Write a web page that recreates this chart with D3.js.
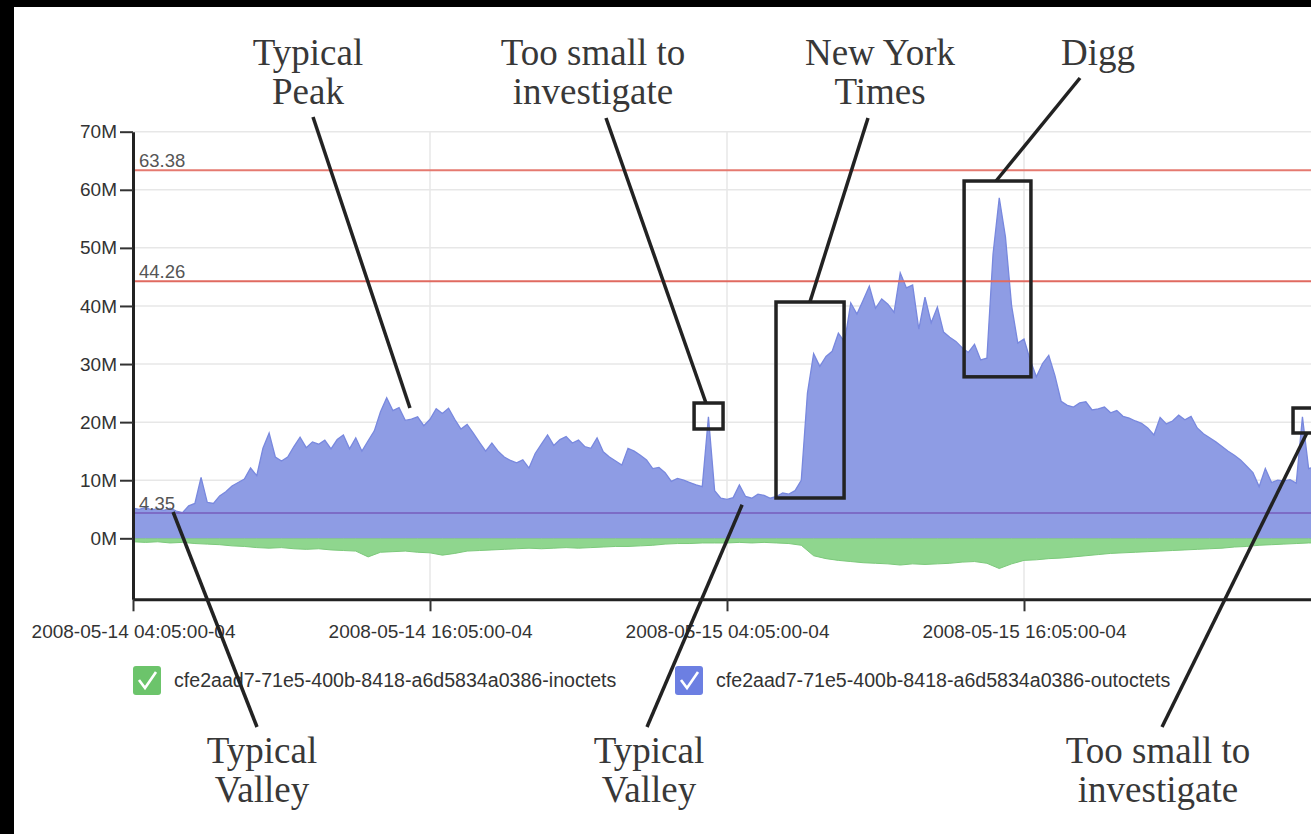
<!DOCTYPE html>
<html><head><meta charset="utf-8">
<script src="https://cdn.jsdelivr.net/npm/d3@7"></script>
<style>
html,body{margin:0;padding:0;background:#000;overflow:hidden;}
svg{display:block;}
</style></head>
<body>
<script>
// ---------------- DATA ----------------
// start of the series (shown as local time, -04)
const startTime = Date.UTC(2008, 4, 14, 4, 5);
// outoctets, one value every 15 minutes, in millions
const outValues = [
 5.2,5.0,5.3,4.9,5.1,4.8,5.2,4.7,4.4,5.6,6.0,10.5,6.2,6.0,7.3,8.0,9.0,9.6,10.2,12.1,
 10.8,15.5,18.1,14.0,13.3,14.0,15.8,17.4,15.6,16.6,16.2,16.9,15.4,17.0,17.8,15.4,17.3,15.0,16.8,18.5,
 21.8,24.2,22.0,22.5,20.3,20.5,20.9,19.4,20.5,22.3,21.5,22.4,20.5,18.8,19.6,18.1,16.5,15.0,16.4,15.0,
 14.0,13.4,13.0,13.5,12.1,14.6,16.2,17.8,16.0,17.0,17.5,16.4,16.9,15.8,15.5,17.3,14.9,14.0,13.3,12.6,
 15.5,15.0,14.3,13.5,12.0,12.2,11.3,9.8,10.3,10.0,9.6,9.2,8.9,20.9,8.2,6.9,6.7,7.0,9.2,7.2,
 6.9,7.6,7.4,6.9,7.2,7.8,7.6,8.2,10.0,25.0,31.8,29.6,31.3,32.2,35.3,33.8,40.5,38.6,41.0,43.4,
 39.6,41.2,40.3,38.9,45.7,43.1,43.6,36.0,41.5,37.1,39.8,35.5,34.6,33.9,32.8,32.0,33.4,30.7,31.0,49.0,
 58.6,51.9,40.0,33.6,34.3,30.7,27.8,30.1,31.5,28.0,23.6,22.9,22.6,23.3,23.5,22.1,22.3,22.6,21.6,22.0,
 21.0,20.7,20.2,19.8,19.0,17.8,20.8,19.7,20.2,21.2,20.4,21.0,19.0,18.0,17.3,16.6,15.8,15.0,14.3,13.5,
 12.4,11.3,8.9,12.0,9.6,10.0,9.9,10.1,9.5,20.9,12.0,12.3,11.0
];
// inoctets (drawn negative), one value every 30 minutes, in millions
const inValues = [
 -0.6,-0.7,-0.6,-0.8,-0.7,-0.9,-1.0,-1.1,-1.3,-1.4,-1.6,-1.7,-1.6,-1.8,-1.9,-1.8,-2.0,-2.1,-2.2,-3.2,
 -2.4,-2.3,-2.2,-2.4,-2.5,-2.9,-2.6,-2.2,-2.1,-2.0,-1.9,-1.8,-1.7,-1.8,-1.7,-1.6,-1.7,-1.6,-1.5,-1.4,
 -1.4,-1.3,-1.2,-1.0,-0.9,-0.9,-0.8,-0.8,-0.8,-0.7,-0.8,-0.7,-0.8,-0.9,-1.2,-3.0,-3.5,-3.8,-4.0,-4.2,
 -4.3,-4.4,-4.6,-4.4,-4.5,-4.4,-4.3,-4.1,-4.0,-4.3,-5.2,-4.4,-3.8,-3.7,-3.5,-3.4,-3.2,-3.0,-2.8,-2.6,
 -2.5,-2.4,-2.3,-2.2,-2.1,-2.0,-1.9,-1.8,-1.7,-1.5,-1.4,-1.2,-1.1,-1.0,-0.9,-0.8,-0.8
];
const thresholdValues = [63.38, 44.26, 4.35];
const thresholdLabels = ["63.38", "44.26", "4.35"];
const yTickValues = [0, 10, 20, 30, 40, 50, 60, 70];
const yTickLabels = ["0M", "10M", "20M", "30M", "40M", "50M", "60M", "70M"];
const xTickHours = [0, 12, 24, 36];
const xTickLabels = ["2008-05-14 04:05:00-04", "2008-05-14 16:05:00-04", "2008-05-15 04:05:00-04", "2008-05-15 16:05:00-04"];
const seriesNames = ["cfe2aad7-71e5-400b-8418-a6d5834a0386-inoctets", "cfe2aad7-71e5-400b-8418-a6d5834a0386-outoctets"];
// annotation boxes: [hourStart, hourEnd, valueTop, valueBottom]
const boxes = [[22.67, 23.84, 23.29, 18.82], [25.98, 28.73, 40.68, 6.94], [33.58, 36.28, 61.51, 27.8], [46.87, 48.3, 22.43, 18.13]];
// callouts: text lines, label anchor, and target (hour, value)
const callouts = [
  {lines: ["Typical", "Peak"], pos: "top", cx: 308, end: [313, 117], target: [11.19, 22.43]},
  {lines: ["Too small to", "investigate"], pos: "top", cx: 593, end: [606, 118], target: [23.15, 23.29]},
  {lines: ["New York", "Times"], pos: "top", cx: 880, end: [868, 118], target: [27.35, 40.68]},
  {lines: ["Digg"], pos: "top", cx: 1098, end: [1080, 78], target: [34.87, 61.51]},
  {lines: ["Typical", "Valley"], pos: "bottom", cx: 262, end: [257, 727], target: [1.62, 4.53]},
  {lines: ["Typical", "Valley"], pos: "bottom", cx: 649, end: [647, 727], target: [24.61, 5.77]},
  {lines: ["Too small to", "investigate"], pos: "bottom", cx: 1158, end: [1162, 727], target: [47.43, 18.13]}
];

// ---------------- CHART ----------------
const W = 1311, H = 834;
const HOUR = 3600 * 1000;
const svg = d3.select("body").append("svg").attr("width", W).attr("height", H);
svg.append("rect").attr("x", 14).attr("y", 7).attr("width", W - 14).attr("height", H - 7).attr("fill", "#fff");

const x = d3.scaleTime().domain([new Date(startTime), new Date(startTime + 48 * HOUR)]).range([133, 1321]);
const y = d3.scaleLinear().domain([-10.5, 70]).range([599.3, 131.7]);
const hx = h => x(new Date(startTime + h * HOUR));

const outData = outValues.map((v, i) => ({t: new Date(startTime + i * 15 * 60 * 1000), v}));
const inData = inValues.map((v, i) => ({t: new Date(startTime + i * 30 * 60 * 1000), v}));

const font = "'Liberation Sans', Arial, sans-serif";
const serif = "'Liberation Serif', 'Times New Roman', serif";

// gridlines
const grid = svg.append("g");
grid.selectAll("line.h").data(yTickValues).join("line")
  .attr("x1", 133).attr("x2", W).attr("y1", d => y(d)).attr("y2", d => y(d))
  .attr("stroke", "#e7e7e7").attr("stroke-width", 1.5);
grid.selectAll("line.v").data(xTickHours.slice(1)).join("line")
  .attr("x1", d => hx(d)).attr("x2", d => hx(d)).attr("y1", y(70)).attr("y2", y(-10.5))
  .attr("stroke", "#e7e7e7").attr("stroke-width", 1.5);

// areas
const outArea = d3.area().x(d => x(d.t)).y0(y(0)).y1(d => y(d.v));
const inArea = d3.area().x(d => x(d.t)).y0(y(0)).y1(d => y(d.v));
svg.append("path").datum(inData).attr("d", inArea).attr("fill", "#8fd68e").attr("stroke", "#7cc97b").attr("stroke-width", 1);
svg.append("path").datum(outData).attr("d", outArea).attr("fill", "#8e9ce4");
svg.append("path").datum(outData).attr("d", d3.line().x(d => x(d.t)).y(d => y(d.v))).attr("fill", "none").attr("stroke", "#7888de").attr("stroke-width", 1.3);

// threshold lines
const thrColors = ["#e57a70", "#e06a60", "#7c6cc6"];
thresholdValues.forEach((v, i) => {
  svg.append("line").attr("x1", 133).attr("x2", W).attr("y1", y(v)).attr("y2", y(v))
    .attr("stroke", thrColors[i]).attr("stroke-width", 2);
  svg.append("text").attr("x", 139).attr("y", y(v) - 3).text(thresholdLabels[i])
    .attr("font-family", font).attr("font-size", 18.5).attr("fill", "#555");
});

// axes
const yAxis = svg.append("g").attr("transform", "translate(133,0)")
  .call(d3.axisLeft(y).tickValues(yTickValues).tickFormat((d, i) => yTickLabels[i]).tickSize(13).tickSizeOuter(0).tickPadding(3));
const xAxis = svg.append("g").attr("transform", `translate(0,${y(-10.5)})`)
  .call(d3.axisBottom(x).tickValues(xTickHours.map(h => new Date(startTime + h * HOUR))).tickFormat((d, i) => xTickLabels[i]).tickSize(12).tickSizeOuter(0));
[yAxis, xAxis].forEach(g => {
  g.select(".domain").attr("stroke", "#222").attr("stroke-width", 3);
  g.selectAll(".tick line").attr("stroke", "#333").attr("stroke-width", 2);
  g.selectAll(".tick text").attr("font-family", font).attr("font-size", 19).attr("fill", "#333");
});
xAxis.selectAll(".tick text").attr("y", 39).attr("dy", 0);

// legend
const legendColors = ["#6cc46b", "#6c7fe2"];
const legendX = [133, 675];
seriesNames.forEach((name, i) => {
  const g = svg.append("g").attr("transform", `translate(${legendX[i]},666)`);
  g.append("rect").attr("width", 28).attr("height", 29).attr("rx", 3).attr("fill", legendColors[i]);
  g.append("path").attr("d", "M6,14 L12,22 L23,6").attr("fill", "none").attr("stroke", "#fff").attr("stroke-width", 2.6);
  g.append("text").attr("x", 41).attr("y", 21).text(name)
    .attr("font-family", font).attr("font-size", 19.6).attr("fill", "#333");
});

// annotation boxes
svg.selectAll("rect.box").data(boxes).join("rect")
  .attr("x", d => hx(d[0])).attr("y", d => y(d[2]))
  .attr("width", d => hx(d[1]) - hx(d[0])).attr("height", d => y(d[3]) - y(d[2]))
  .attr("fill", "none").attr("stroke", "#222").attr("stroke-width", 3.5);

// callouts
callouts.forEach(c => {
  svg.append("line").attr("x1", c.end[0]).attr("y1", c.end[1])
    .attr("x2", hx(c.target[0])).attr("y2", y(c.target[1]))
    .attr("stroke", "#222").attr("stroke-width", 3.5);
  const base = c.pos === "top" ? 65 : 763;
  c.lines.forEach((ln, j) => {
    svg.append("text").attr("x", c.cx).attr("y", base + j * 39).attr("text-anchor", "middle")
      .attr("font-family", serif).attr("font-size", 37).attr("fill", "#383838").text(ln);
  });
});
</script>
</body></html>
